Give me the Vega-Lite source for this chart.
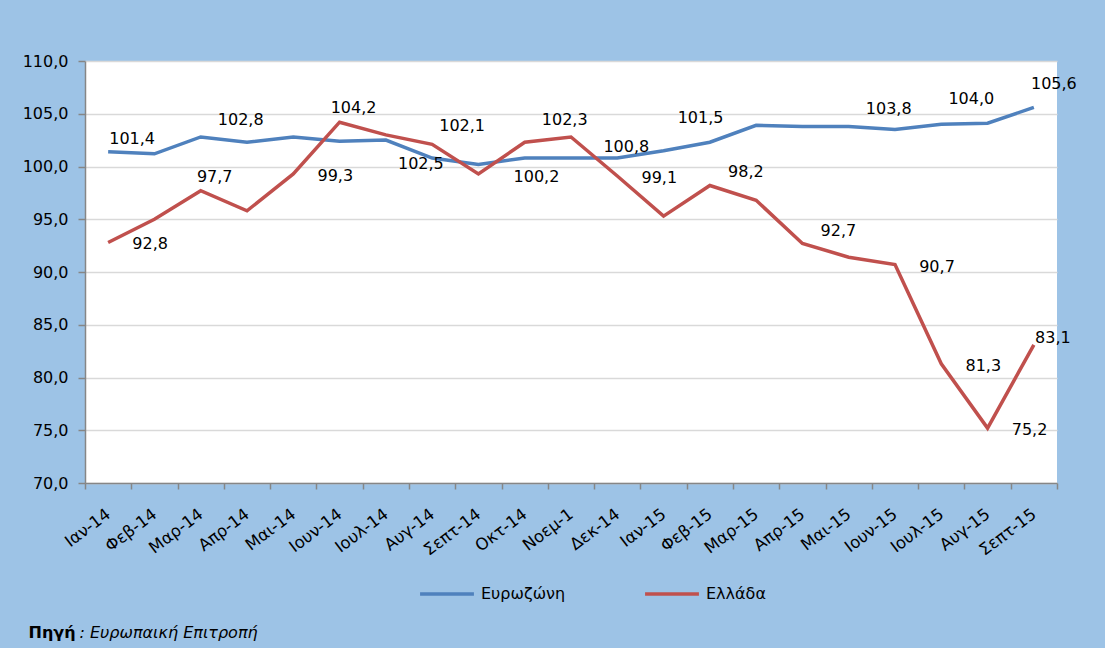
{
  "$schema": "https://vega.github.io/schema/vega-lite/v6.json",
  "width": 972,
  "height": 422,
  "autosize": {"type": "none"},
  "padding": {"left": 85, "top": 61, "right": 48, "bottom": 165},
  "background": "#9DC3E6",
  "config": {
    "locale": {"number": {"decimal": ",", "thousands": ".", "grouping": [3], "currency": ["", " €"]}},
    "view": {"fill": "white", "stroke": null},
    "font": "DejaVu Sans",
    "text": {"font": "DejaVu Sans"}
  },
  "data": {
    "values": [
      {"month": "Ιαν-14", "series": "Ευρωζώνη", "value": 101.4},
      {"month": "Φεβ-14", "series": "Ευρωζώνη", "value": 101.2},
      {"month": "Μαρ-14", "series": "Ευρωζώνη", "value": 102.8},
      {"month": "Απρ-14", "series": "Ευρωζώνη", "value": 102.3},
      {"month": "Μαι-14", "series": "Ευρωζώνη", "value": 102.8},
      {"month": "Ιουν-14", "series": "Ευρωζώνη", "value": 102.4},
      {"month": "Ιουλ-14", "series": "Ευρωζώνη", "value": 102.5},
      {"month": "Αυγ-14", "series": "Ευρωζώνη", "value": 100.8},
      {"month": "Σεπτ-14", "series": "Ευρωζώνη", "value": 100.2},
      {"month": "Οκτ-14", "series": "Ευρωζώνη", "value": 100.8},
      {"month": "Νοεμ-1", "series": "Ευρωζώνη", "value": 100.8},
      {"month": "Δεκ-14", "series": "Ευρωζώνη", "value": 100.8},
      {"month": "Ιαν-15", "series": "Ευρωζώνη", "value": 101.5},
      {"month": "Φεβ-15", "series": "Ευρωζώνη", "value": 102.3},
      {"month": "Μαρ-15", "series": "Ευρωζώνη", "value": 103.9},
      {"month": "Απρ-15", "series": "Ευρωζώνη", "value": 103.8},
      {"month": "Μαι-15", "series": "Ευρωζώνη", "value": 103.8},
      {"month": "Ιουν-15", "series": "Ευρωζώνη", "value": 103.5},
      {"month": "Ιουλ-15", "series": "Ευρωζώνη", "value": 104.0},
      {"month": "Αυγ-15", "series": "Ευρωζώνη", "value": 104.1},
      {"month": "Σεπτ-15", "series": "Ευρωζώνη", "value": 105.6},
      {"month": "Ιαν-14", "series": "Ελλάδα", "value": 92.8},
      {"month": "Φεβ-14", "series": "Ελλάδα", "value": 95.0},
      {"month": "Μαρ-14", "series": "Ελλάδα", "value": 97.7},
      {"month": "Απρ-14", "series": "Ελλάδα", "value": 95.8},
      {"month": "Μαι-14", "series": "Ελλάδα", "value": 99.3},
      {"month": "Ιουν-14", "series": "Ελλάδα", "value": 104.2},
      {"month": "Ιουλ-14", "series": "Ελλάδα", "value": 103.0},
      {"month": "Αυγ-14", "series": "Ελλάδα", "value": 102.1},
      {"month": "Σεπτ-14", "series": "Ελλάδα", "value": 99.3},
      {"month": "Οκτ-14", "series": "Ελλάδα", "value": 102.3},
      {"month": "Νοεμ-1", "series": "Ελλάδα", "value": 102.8},
      {"month": "Δεκ-14", "series": "Ελλάδα", "value": 99.1},
      {"month": "Ιαν-15", "series": "Ελλάδα", "value": 95.3},
      {"month": "Φεβ-15", "series": "Ελλάδα", "value": 98.2},
      {"month": "Μαρ-15", "series": "Ελλάδα", "value": 96.8},
      {"month": "Απρ-15", "series": "Ελλάδα", "value": 92.7},
      {"month": "Μαι-15", "series": "Ελλάδα", "value": 91.4},
      {"month": "Ιουν-15", "series": "Ελλάδα", "value": 90.7},
      {"month": "Ιουλ-15", "series": "Ελλάδα", "value": 81.3},
      {"month": "Αυγ-15", "series": "Ελλάδα", "value": 75.2},
      {"month": "Σεπτ-15", "series": "Ελλάδα", "value": 83.1}
    ]
  },
  "encoding": {
    "x": {
      "field": "month",
      "type": "nominal",
      "sort": null,
      "scale": {"type": "band", "paddingInner": 0, "paddingOuter": 0},
      "axis": {
        "title": ": Ευρωπαική Επιτροπή",
        "titleX": -6,
        "titleY": 149,
        "titleAngle": 0,
        "titleAlign": "left",
        "titleBaseline": "middle",
        "titleFontStyle": "italic",
        "titleFontWeight": "normal",
        "titleFontSize": 16,
        "titleColor": "black",
        "grid": false,
        "domainColor": "#868686",
        "domainWidth": 1.5,
        "tickColor": "#868686",
        "tickWidth": 1.5,
        "tickSize": 6,
        "tickBand": "extent",
        "labelAngle": -37,
        "labelAlign": "right",
        "labelBaseline": "middle",
        "labelPadding": 23,
        "labelFontSize": 16.5,
        "labelColor": "black"
      }
    },
    "y": {
      "field": "value",
      "type": "quantitative",
      "scale": {"domain": [70, 110], "nice": false, "zero": false},
      "axis": {
        "title": "Πηγή",
        "titleX": -57,
        "titleY": 571,
        "titleAngle": 0,
        "titleAlign": "left",
        "titleBaseline": "middle",
        "titleFontWeight": "bold",
        "titleFontSize": 16,
        "titleColor": "black",
        "values": [70, 75, 80, 85, 90, 95, 100, 105, 110],
        "format": ".1f",
        "grid": true,
        "gridColor": "#D9D9D9",
        "gridWidth": 1.5,
        "domainColor": "#868686",
        "domainWidth": 1.5,
        "tickColor": "#868686",
        "tickWidth": 1.5,
        "tickSize": 7,
        "labelPadding": 10,
        "labelFontSize": 16,
        "labelColor": "black"
      }
    }
  },
  "layer": [
    {
      "mark": {"type": "line", "strokeWidth": 3.5},
      "encoding": {
        "color": {
          "field": "series",
          "type": "nominal",
          "scale": {"domain": ["Ευρωζώνη", "Ελλάδα"], "range": ["#4F81BD", "#C0504D"]},
          "legend": {
            "orient": "none",
            "legendX": 333,
            "legendY": 504,
            "direction": "horizontal",
            "title": null,
            "symbolType": "stroke",
            "symbolSize": 2900,
            "symbolStrokeWidth": 3.5,
            "labelFontSize": 16,
            "labelColor": "black",
            "labelOffset": 5,
            "columnPadding": 72
          }
        }
      }
    },
    {
      "transform": [{"filter": {"and": [{"field": "series", "equal": "Ελλάδα"}, {"field": "month", "oneOf": ["Ιαν-14", "Μαι-14", "Δεκ-14", "Ιουν-15", "Ιουλ-15", "Αυγ-15"]}]}}],
      "mark": {"type": "text", "fontSize": 16, "color": "black", "align": "center", "baseline": "middle", "dx": 42, "dy": 2},
      "encoding": {"text": {"field": "value", "type": "quantitative", "format": ".1f"}}
    },
    {
      "transform": [{"filter": {"and": [{"field": "series", "equal": "Ελλάδα"}, {"field": "month", "oneOf": ["Μαρ-14", "Ιουν-14"]}]}}],
      "mark": {"type": "text", "fontSize": 16, "color": "black", "align": "center", "baseline": "middle", "dx": 14, "dy": -14},
      "encoding": {"text": {"field": "value", "type": "quantitative", "format": ".1f"}}
    },
    {
      "transform": [{"filter": {"and": [{"field": "series", "equal": "Ευρωζώνη"}, {"field": "month", "oneOf": ["Δεκ-14"]}]}}],
      "mark": {"type": "text", "fontSize": 16, "color": "black", "align": "center", "baseline": "middle", "dx": 9, "dy": -11},
      "encoding": {"text": {"field": "value", "type": "quantitative", "format": ".1f"}}
    },
    {
      "transform": [{"filter": {"and": [{"field": "series", "equal": "Ελλάδα"}, {"field": "month", "oneOf": ["Σεπτ-15"]}]}}],
      "mark": {"type": "text", "fontSize": 16, "color": "black", "align": "center", "baseline": "middle", "dx": 19, "dy": -7},
      "encoding": {"text": {"field": "value", "type": "quantitative", "format": ".1f"}}
    },
    {
      "transform": [{"filter": {"and": [{"field": "series", "equal": "Ευρωζώνη"}, {"field": "month", "oneOf": ["Σεπτ-15"]}]}}],
      "mark": {"type": "text", "fontSize": 16, "color": "black", "align": "center", "baseline": "middle", "dx": 20, "dy": -23},
      "encoding": {"text": {"field": "value", "type": "quantitative", "format": ".1f"}}
    },
    {
      "transform": [{"filter": {"and": [{"field": "series", "equal": "Ευρωζώνη"}, {"field": "month", "oneOf": ["Ιαν-14"]}]}}],
      "mark": {"type": "text", "fontSize": 16, "color": "black", "align": "center", "baseline": "middle", "dx": 24, "dy": -13},
      "encoding": {"text": {"field": "value", "type": "quantitative", "format": ".1f"}}
    },
    {
      "transform": [{"filter": {"and": [{"field": "series", "equal": "Ευρωζώνη"}, {"field": "month", "oneOf": ["Μαρ-14", "Μαι-15"]}]}}],
      "mark": {"type": "text", "fontSize": 16, "color": "black", "align": "center", "baseline": "middle", "dx": 40, "dy": -17},
      "encoding": {"text": {"field": "value", "type": "quantitative", "format": ".1f"}}
    },
    {
      "transform": [{"filter": {"and": [{"field": "series", "equal": "Ελλάδα"}, {"field": "month", "oneOf": ["Οκτ-14"]}]}}],
      "mark": {"type": "text", "fontSize": 16, "color": "black", "align": "center", "baseline": "middle", "dx": 40, "dy": -22},
      "encoding": {"text": {"field": "value", "type": "quantitative", "format": ".1f"}}
    },
    {
      "transform": [{"filter": {"and": [{"field": "series", "equal": "Ελλάδα"}, {"field": "month", "oneOf": ["Φεβ-15", "Απρ-15"]}]}}],
      "mark": {"type": "text", "fontSize": 16, "color": "black", "align": "center", "baseline": "middle", "dx": 36, "dy": -13},
      "encoding": {"text": {"field": "value", "type": "quantitative", "format": ".1f"}}
    },
    {
      "transform": [{"filter": {"and": [{"field": "series", "equal": "Ελλάδα"}, {"field": "month", "oneOf": ["Αυγ-14"]}]}}],
      "mark": {"type": "text", "fontSize": 16, "color": "black", "align": "center", "baseline": "middle", "dx": 30, "dy": -18},
      "encoding": {"text": {"field": "value", "type": "quantitative", "format": ".1f"}}
    },
    {
      "transform": [{"filter": {"and": [{"field": "series", "equal": "Ευρωζώνη"}, {"field": "month", "oneOf": ["Ιουλ-15"]}]}}],
      "mark": {"type": "text", "fontSize": 16, "color": "black", "align": "center", "baseline": "middle", "dx": 30, "dy": -25},
      "encoding": {"text": {"field": "value", "type": "quantitative", "format": ".1f"}}
    },
    {
      "transform": [{"filter": {"and": [{"field": "series", "equal": "Ευρωζώνη"}, {"field": "month", "oneOf": ["Ιαν-15"]}]}}],
      "mark": {"type": "text", "fontSize": 16, "color": "black", "align": "center", "baseline": "middle", "dx": 37, "dy": -33},
      "encoding": {"text": {"field": "value", "type": "quantitative", "format": ".1f"}}
    },
    {
      "transform": [{"filter": {"and": [{"field": "series", "equal": "Ευρωζώνη"}, {"field": "month", "oneOf": ["Ιουλ-14"]}]}}],
      "mark": {"type": "text", "fontSize": 16, "color": "black", "align": "center", "baseline": "middle", "dx": 35, "dy": 24},
      "encoding": {"text": {"field": "value", "type": "quantitative", "format": ".1f"}}
    },
    {
      "transform": [{"filter": {"and": [{"field": "series", "equal": "Ευρωζώνη"}, {"field": "month", "oneOf": ["Σεπτ-14"]}]}}],
      "mark": {"type": "text", "fontSize": 16, "color": "black", "align": "center", "baseline": "middle", "dx": 58, "dy": 13},
      "encoding": {"text": {"field": "value", "type": "quantitative", "format": ".1f"}}
    }
  ]
}
